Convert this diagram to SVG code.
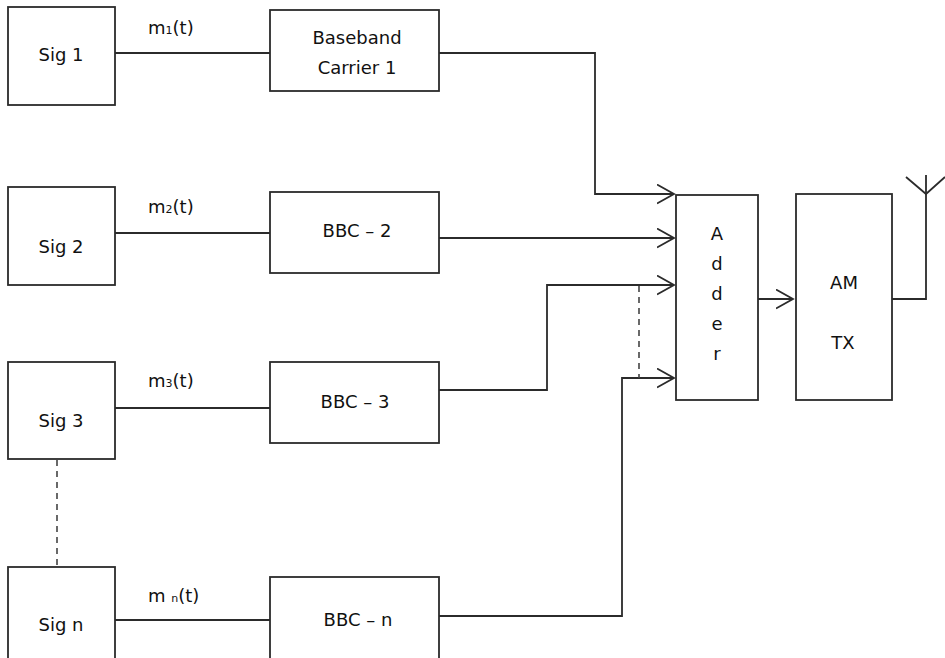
<svg xmlns="http://www.w3.org/2000/svg" width="945" height="658" viewBox="0 0 945 658">
<style>
.box{fill:#fff;stroke:#2b2b2b;stroke-width:1.8}
.ln{fill:none;stroke:#2b2b2b;stroke-width:1.8}
.dash{fill:none;stroke:#444;stroke-width:1.6;stroke-dasharray:6 5}
text{font-family:"DejaVu Sans","Liberation Sans",sans-serif;font-size:18px;fill:#111;text-anchor:middle}
.lab{text-anchor:start}
.sub{font-size:11px}
</style>
<defs>
<marker id="arr" markerWidth="20" markerHeight="22" refX="17" refY="10" orient="auto" markerUnits="userSpaceOnUse">
<path d="M0,0.5 L17,10 L0,19.5" fill="none" stroke="#2b2b2b" stroke-width="1.8"/>
</marker>
</defs>
<rect width="945" height="658" fill="#fff"/>
<g id="connectors">
<path class="ln" d="M115,53 H270"/>
<path class="ln" d="M115,233 H270"/>
<path class="ln" d="M115,408 H270"/>
<path class="ln" d="M115,620 H270"/>
<path class="ln" d="M439,53 H595 V194 H674" marker-end="url(#arr)"/>
<path class="ln" d="M439,238 H674" marker-end="url(#arr)"/>
<path class="ln" d="M439,390 H547 V285 H674" marker-end="url(#arr)"/>
<path class="ln" d="M439,616 H622 V378 H674" marker-end="url(#arr)"/>
<path class="ln" d="M758,299 H793" marker-end="url(#arr)"/>
<path class="ln" d="M892,299 H926 V175"/>
<path class="ln" d="M906,177 L926,194 L945,177"/>
<path class="dash" d="M57,460 V566"/>
<path class="dash" d="M639,286 V378"/>
<text class="lab" x="148" y="34">m<tspan class="sub">1</tspan>(t)</text>
<text class="lab" x="148" y="213">m<tspan class="sub">2</tspan>(t)</text>
<text class="lab" x="148" y="387">m<tspan class="sub">3</tspan>(t)</text>
<text class="lab" x="148" y="602">m <tspan class="sub">n</tspan>(t)</text>
</g>
<g id="sig1"><rect class="box" x="8" y="7" width="107" height="98"/><text x="61" y="61">Sig 1</text></g>
<g id="sig2"><rect class="box" x="8" y="187" width="107" height="98"/><text x="61" y="253">Sig 2</text></g>
<g id="sig3"><rect class="box" x="8" y="362" width="107" height="97"/><text x="61" y="427">Sig 3</text></g>
<g id="sign"><rect class="box" x="8" y="567" width="107" height="110"/><text x="61" y="631">Sig n</text></g>
<g id="bbc1"><rect class="box" x="270" y="10" width="169" height="81"/><text x="357" y="44">Baseband</text><text x="357" y="74">Carrier 1</text></g>
<g id="bbc2"><rect class="box" x="270" y="192" width="169" height="81"/><text x="357" y="237">BBC – 2</text></g>
<g id="bbc3"><rect class="box" x="270" y="362" width="169" height="81"/><text x="355" y="408">BBC – 3</text></g>
<g id="bbcn"><rect class="box" x="270" y="577" width="169" height="100"/><text x="358" y="626">BBC – n</text></g>
<g id="adder"><rect class="box" x="676" y="195" width="82" height="205"/>
<text x="717" y="240">A</text><text x="717" y="270">d</text><text x="717" y="300">d</text><text x="717" y="330">e</text><text x="717" y="360">r</text></g>
<g id="amtx"><rect class="box" x="796" y="194" width="96" height="206"/><text x="844" y="289">AM</text><text x="843" y="349">TX</text></g>
</svg>
